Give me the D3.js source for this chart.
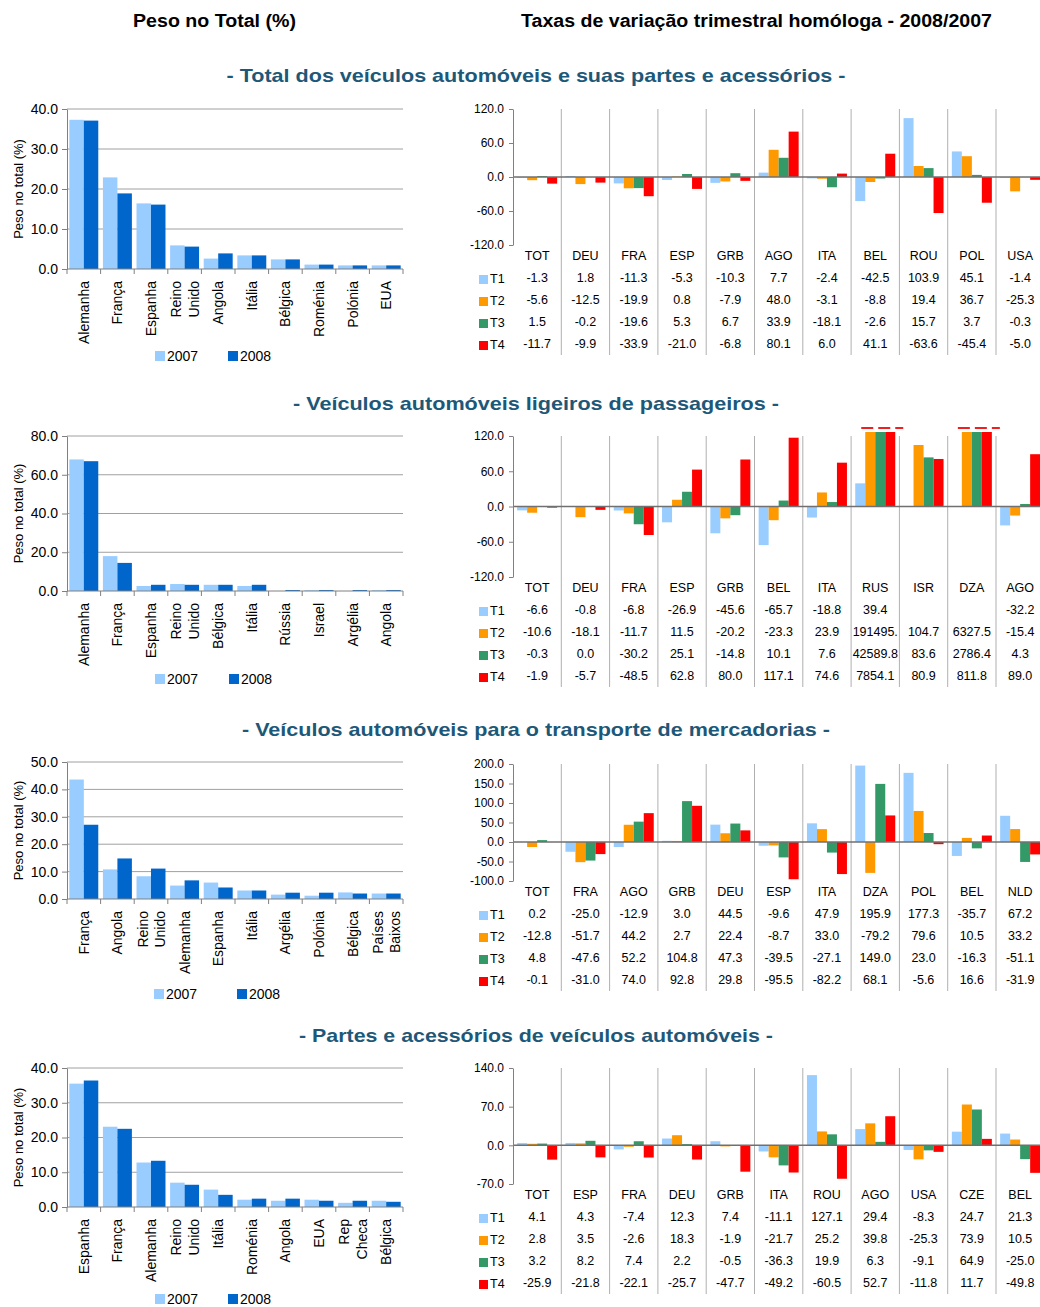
<!DOCTYPE html>
<html>
<head>
<meta charset="utf-8">
<script src="https://cdn.jsdelivr.net/npm/d3@7"></script>
<style>
body { margin: 0; background: #fff; }
svg { display: block; }
</style>
</head>
<body>
<svg id="chart" width="1040" height="1307" font-family="'Liberation Sans', Arial, sans-serif"></svg>
<script>
// series names
const years = ["2007", "2008"]
const quarters = ["T1", "T2", "T3", "T4"]

// panel 1 - total
const totalCountries = ["Alemanha", "França", "Espanha", "Reino Unido", "Angola", "Itália", "Bélgica", "Roménia", "Polónia", "EUA"]
const total2007 = [37.3, 22.9, 16.4, 5.9, 2.6, 3.4, 2.4, 1.1, 0.9, 0.9]
const total2008 = [37.1, 18.9, 16.1, 5.6, 3.9, 3.4, 2.4, 1.1, 0.9, 0.9]
const totalCodes = ["TOT", "DEU", "FRA", "ESP", "GRB", "AGO", "ITA", "BEL", "ROU", "POL", "USA"]
const totalT1 = [-1.3, 1.8, -11.3, -5.3, -10.3, 7.7, -2.4, -42.5, 103.9, 45.1, -1.4]
const totalT2 = [-5.6, -12.5, -19.9, 0.8, -7.9, 48.0, -3.1, -8.8, 19.4, 36.7, -25.3]
const totalT3 = [1.5, -0.2, -19.6, 5.3, 6.7, 33.9, -18.1, -2.6, 15.7, 3.7, -0.3]
const totalT4 = [-11.7, -9.9, -33.9, -21.0, -6.8, 80.1, 6.0, 41.1, -63.6, -45.4, -5.0]

// panel 2 - ligeiros de passageiros
const ligeirosCountries = ["Alemanha", "França", "Espanha", "Reino Unido", "Bélgica", "Itália", "Rússia", "Israel", "Argélia", "Angola"]
const ligeiros2007 = [67.9, 18.0, 2.6, 3.6, 3.2, 2.6, 0.0, 0.4, 0.0, 0.4]
const ligeiros2008 = [67.0, 14.5, 3.2, 3.2, 3.2, 3.2, 0.5, 0.5, 0.5, 0.5]
const ligeirosCodes = ["TOT", "DEU", "FRA", "ESP", "GRB", "BEL", "ITA", "RUS", "ISR", "DZA", "AGO"]
const ligeirosT1 = [-6.6, -0.8, -6.8, -26.9, -45.6, -65.7, -18.8, 39.4, null, null, -32.2]
const ligeirosT2 = [-10.6, -18.1, -11.7, 11.5, -20.2, -23.3, 23.9, 191495.0, 104.7, 6327.5, -15.4]
const ligeirosT3 = [-0.3, 0.0, -30.2, 25.1, -14.8, 10.1, 7.6, 42589.8, 83.6, 2786.4, 4.3]
const ligeirosT4 = [-1.9, -5.7, -48.5, 62.8, 80.0, 117.1, 74.6, 7854.1, 80.9, 811.8, 89.0]

// panel 3 - transporte de mercadorias
const mercCountries = ["França", "Angola", "Reino Unido", "Alemanha", "Espanha", "Itália", "Argélia", "Polónia", "Bélgica", "Países Baixos"]
const merc2007 = [43.6, 10.8, 8.3, 4.9, 6.0, 3.1, 1.6, 1.2, 2.4, 2.0]
const merc2008 = [27.1, 14.8, 11.1, 6.8, 4.2, 3.1, 2.3, 2.3, 2.0, 2.0]
const mercCodes = ["TOT", "FRA", "AGO", "GRB", "DEU", "ESP", "ITA", "DZA", "POL", "BEL", "NLD"]
const mercT1 = [0.2, -25.0, -12.9, 3.0, 44.5, -9.6, 47.9, 195.9, 177.3, -35.7, 67.2]
const mercT2 = [-12.8, -51.7, 44.2, 2.7, 22.4, -8.7, 33.0, -79.2, 79.6, 10.5, 33.2]
const mercT3 = [4.8, -47.6, 52.2, 104.8, 47.3, -39.5, -27.1, 149.0, 23.0, -16.3, -51.1]
const mercT4 = [-0.1, -31.0, 74.0, 92.8, 29.8, -95.5, -82.2, 68.1, -5.6, 16.6, -31.9]

// panel 4 - partes e acessorios
const partesCountries = ["Espanha", "França", "Alemanha", "Reino Unido", "Itália", "Roménia", "Angola", "EUA", "Rep Checa", "Bélgica"]
const partes2007 = [35.5, 23.1, 12.8, 7.0, 5.0, 2.1, 1.8, 2.1, 1.2, 1.8]
const partes2008 = [36.4, 22.5, 13.3, 6.4, 3.5, 2.4, 2.4, 1.8, 1.8, 1.5]
const partesCodes = ["TOT", "ESP", "FRA", "DEU", "GRB", "ITA", "ROU", "AGO", "USA", "CZE", "BEL"]
const partesT1 = [4.1, 4.3, -7.4, 12.3, 7.4, -11.1, 127.1, 29.4, -8.3, 24.7, 21.3]
const partesT2 = [2.8, 3.5, -2.6, 18.3, -1.9, -21.7, 25.2, 39.8, -25.3, 73.9, 10.5]
const partesT3 = [3.2, 8.2, 7.4, 2.2, -0.5, -36.3, 19.9, 6.3, -9.1, 64.9, -25.0]
const partesT4 = [-25.9, -21.8, -22.1, -25.7, -47.7, -49.2, -60.5, 52.7, -11.8, 11.7, -49.8]

// axis ticks
const totalShareTicks = [0, 10, 20, 30, 40]
const ligeirosShareTicks = [0, 20, 40, 60, 80]
const mercShareTicks = [0, 10, 20, 30, 40, 50]
const partesShareTicks = [0, 10, 20, 30, 40]
const totalRateTicks = [-120, -60, 0, 60, 120]
const ligeirosRateTicks = [-120, -60, 0, 60, 120]
const mercRateTicks = [-100, -50, 0, 50, 100, 150, 200]
const partesRateTicks = [-70, 0, 70, 140]

const yearColors = ["#99ccff", "#0066cc"]
const quarterColors = ["#99ccff", "#ff9900", "#339966", "#ff0000"]
const titleColor = "#1d5878"

const panels = [
    {
        title: "- Total dos veículos automóveis e suas partes e acessórios -", titleY: 75, titleW: 619,
        countries: totalCountries, share: [total2007, total2008], shareTicks: totalShareTicks,
        shareTop: 109, shareBottom: 269, legendY: 356, legendX: [155, 228],
        codes: totalCodes, rates: [totalT1, totalT2, totalT3, totalT4], rateTicks: totalRateTicks,
        rateTop: 109, rateBottom: 245
    },
    {
        title: "- Veículos automóveis ligeiros de passageiros -", titleY: 403, titleW: 486,
        countries: ligeirosCountries, share: [ligeiros2007, ligeiros2008], shareTicks: ligeirosShareTicks,
        shareTop: 436, shareBottom: 591, legendY: 679, legendX: [155, 229],
        codes: ligeirosCodes, rates: [ligeirosT1, ligeirosT2, ligeirosT3, ligeirosT4], rateTicks: ligeirosRateTicks,
        rateTop: 436, rateBottom: 577
    },
    {
        title: "- Veículos automóveis para o transporte de mercadorias -", titleY: 729, titleW: 588,
        countries: mercCountries, share: [merc2007, merc2008], shareTicks: mercShareTicks,
        shareTop: 762, shareBottom: 899, legendY: 994, legendX: [154, 237],
        codes: mercCodes, rates: [mercT1, mercT2, mercT3, mercT4], rateTicks: mercRateTicks,
        rateTop: 764, rateBottom: 881
    },
    {
        title: "- Partes e acessórios de veículos automóveis -", titleY: 1035, titleW: 474,
        countries: partesCountries, share: [partes2007, partes2008], shareTicks: partesShareTicks,
        shareTop: 1068, shareBottom: 1207, legendY: 1299, legendX: [155, 228],
        codes: partesCodes, rates: [partesT1, partesT2, partesT3, partesT4], rateTicks: partesRateTicks,
        rateTop: 1068, rateBottom: 1184
    }
]

const svg = d3.select("#chart")
// one decimal, plain hyphen for negatives like the source table
const fmt = d => d3.format(".1f")(d).replace("\u2212", "-")

// page headers
svg.append("text").attr("x", 133).attr("y", 27)
    .attr("font-size", 18).attr("font-weight", "bold")
    .attr("textLength", 163).attr("lengthAdjust", "spacingAndGlyphs")
    .text("Peso no Total (%)")
svg.append("text").attr("x", 521).attr("y", 27)
    .attr("font-size", 18).attr("font-weight", "bold")
    .attr("textLength", 471).attr("lengthAdjust", "spacingAndGlyphs")
    .text("Taxas de variação trimestral homóloga - 2008/2007")

// left chart: share of total, 2007 vs 2008
function drawShare(p) {
    const g = svg.append("g")
    const left = 67, right = 403

    const x = d3.scaleBand().domain(p.countries).range([left, right])
    const xs = d3.scaleBand().domain(years).range([0, x.bandwidth()]).paddingOuter(0.16)
    const y = d3.scaleLinear()
        .domain([0, d3.max(p.shareTicks)])
        .range([p.shareBottom, p.shareTop])

    // gridlines
    g.selectAll(".grid").data(p.shareTicks.filter(t => t > 0)).join("line")
        .attr("x1", left).attr("x2", right)
        .attr("y1", d => y(d)).attr("y2", d => y(d))
        .attr("stroke", "#a0a0a0").attr("stroke-width", 1)

    // bars
    years.forEach((yr, k) => {
        g.append("g").selectAll("rect").data(p.share[k]).join("rect")
            .attr("x", (d, i) => x(p.countries[i]) + xs(yr))
            .attr("width", xs.bandwidth())
            .attr("y", d => y(d))
            .attr("height", d => y(0) - y(d))
            .attr("fill", yearColors[k])
    })

    // y axis
    const yAxis = g.append("g").attr("transform", `translate(${left},0)`)
        .call(d3.axisLeft(y).tickValues(p.shareTicks).tickFormat(fmt).tickSize(5).tickSizeOuter(0).tickPadding(4))
        .attr("font-family", null).attr("font-size", null)
    yAxis.select(".domain").attr("stroke", "#808080")
    yAxis.selectAll(".tick line").attr("stroke", "#808080")
    yAxis.selectAll("text").attr("font-size", 14).attr("fill", "#000")

    // x axis line with ticks between categories
    g.append("line").attr("x1", left).attr("x2", right)
        .attr("y1", y(0)).attr("y2", y(0)).attr("stroke", "#808080")
    const bounds = p.countries.map(c => x(c)).concat([right])
    g.selectAll(".xt").data(bounds).join("line")
        .attr("x1", d => d).attr("x2", d => d)
        .attr("y1", y(0)).attr("y2", y(0) + 5)
        .attr("stroke", "#808080")

    // rotated country labels, two-word names on two lines
    const lab = g.selectAll(".lab").data(p.countries).join("text")
        .attr("transform", d => `translate(${x(d) + x.bandwidth() / 2},${y(0) + 12}) rotate(-90)`)
        .attr("text-anchor", "end")
        .attr("font-size", 14)
    lab.each(function (d) {
        const parts = d.split(" ")
        const t = d3.select(this)
        parts.forEach((w, j) => {
            let dy = "0.35em"
            if (parts.length > 1) dy = j === 0 ? "-0.25em" : "1.25em"
            t.append("tspan").attr("x", 0).attr("dy", dy).text(w)
        })
    })

    // axis title
    g.append("text")
        .attr("transform", `translate(23,${(p.shareTop + p.shareBottom) / 2}) rotate(-90)`)
        .attr("text-anchor", "middle")
        .attr("font-size", 13)
        .text("Peso no total (%)")

    // legend
    years.forEach((yr, k) => {
        g.append("rect").attr("x", p.legendX[k]).attr("y", p.legendY - 5)
            .attr("width", 10).attr("height", 10).attr("fill", yearColors[k])
        g.append("text").attr("x", p.legendX[k] + 12).attr("y", p.legendY + 5)
            .attr("font-size", 14).text(yr)
    })
}

// right chart: quarterly rates with data table
function drawRates(p) {
    const g = svg.append("g")
    const left = 513, step = 48.3
    const right = left + step * p.codes.length
    const yMin = d3.min(p.rateTicks), yMax = d3.max(p.rateTicks)

    const x = d3.scaleBand().domain(p.codes).range([left, right])
    const xs = d3.scaleBand().domain(quarters).range([0, x.bandwidth()]).paddingOuter(0.415)
    const y = d3.scaleLinear().domain([yMin, yMax]).range([p.rateBottom, p.rateTop])
    const over = p.rateTop - 4

    // column separators through plot and table
    g.selectAll(".sep").data(p.codes.slice(1)).join("line")
        .attr("x1", d => x(d)).attr("x2", d => x(d))
        .attr("y1", p.rateTop).attr("y2", p.rateBottom + 110)
        .attr("stroke", "#b0b0b0")

    // bars
    quarters.forEach((q, k) => {
        const vals = p.rates[k]
        g.append("g").selectAll("rect").data(vals.map((v, i) => ({ v, c: p.codes[i] })).filter(d => d.v !== null))
            .join("rect")
            .attr("x", d => x(d.c) + xs(q))
            .attr("width", xs.bandwidth())
            .attr("y", d => d.v > yMax ? over : Math.min(y(d.v), y(0)))
            .attr("height", d => d.v > yMax ? y(0) - over : Math.abs(y(d.v) - y(0)))
            .attr("fill", quarterColors[k])
    })

    // dashed marks above bars cut by the axis maximum
    p.codes.forEach((c, i) => {
        const cut = quarters.filter((q, k) => p.rates[k][i] !== null && p.rates[k][i] > yMax)
        if (cut.length === 0) return
        g.append("line")
            .attr("x1", x(c) + xs(cut[0]) - 4)
            .attr("x2", x(c) + xs(cut[cut.length - 1]) + xs.bandwidth() + 8)
            .attr("y1", over - 4).attr("y2", over - 4)
            .attr("stroke", "#f02020").attr("stroke-width", 2)
            .attr("stroke-dasharray", "12,5")
    })

    // zero line
    g.append("line").attr("x1", left).attr("x2", right)
        .attr("y1", y(0)).attr("y2", y(0))
        .attr("stroke", "#707070").attr("stroke-width", 1.5)

    // y axis
    const yAxis = g.append("g").attr("transform", `translate(${left},0)`)
        .call(d3.axisLeft(y).tickValues(p.rateTicks).tickFormat(fmt).tickSize(4).tickSizeOuter(0).tickPadding(5))
        .attr("font-family", null).attr("font-size", null)
    yAxis.select(".domain").attr("stroke", "#808080")
    yAxis.selectAll(".tick line").attr("stroke", "#808080")
    yAxis.selectAll("text").attr("font-size", 12).attr("fill", "#000")

    // category codes
    g.selectAll(".code").data(p.codes).join("text")
        .attr("x", d => x(d) + x.bandwidth() / 2)
        .attr("y", p.rateBottom + 11)
        .attr("dy", "0.35em")
        .attr("text-anchor", "middle")
        .attr("font-size", 12.5)
        .text(d => d)

    // data table rows
    quarters.forEach((q, k) => {
        const ry = p.rateBottom + 33 + k * 22
        g.append("rect").attr("x", 479).attr("y", ry - 3)
            .attr("width", 9).attr("height", 9).attr("fill", quarterColors[k])
        g.append("text").attr("x", 490).attr("y", ry + 1).attr("dy", "0.35em")
            .attr("font-size", 12.5).text(q)
        g.append("g").selectAll("text").data(p.rates[k]).join("text")
            .attr("x", (d, i) => x(p.codes[i]) + x.bandwidth() / 2)
            .attr("y", ry).attr("dy", "0.35em")
            .attr("text-anchor", "middle")
            .attr("font-size", 12.5)
            .text(d => d === null ? "" : fmt(d).slice(0, 7))
    })
}

panels.forEach(p => {
    svg.append("text")
        .attr("x", 536).attr("y", p.titleY).attr("dy", "0.35em")
        .attr("text-anchor", "middle")
        .attr("font-size", 19).attr("font-weight", "bold")
        .attr("fill", titleColor)
        .attr("textLength", p.titleW).attr("lengthAdjust", "spacingAndGlyphs")
        .text(p.title)
    drawShare(p)
    drawRates(p)
})
</script>
</body>
</html>
